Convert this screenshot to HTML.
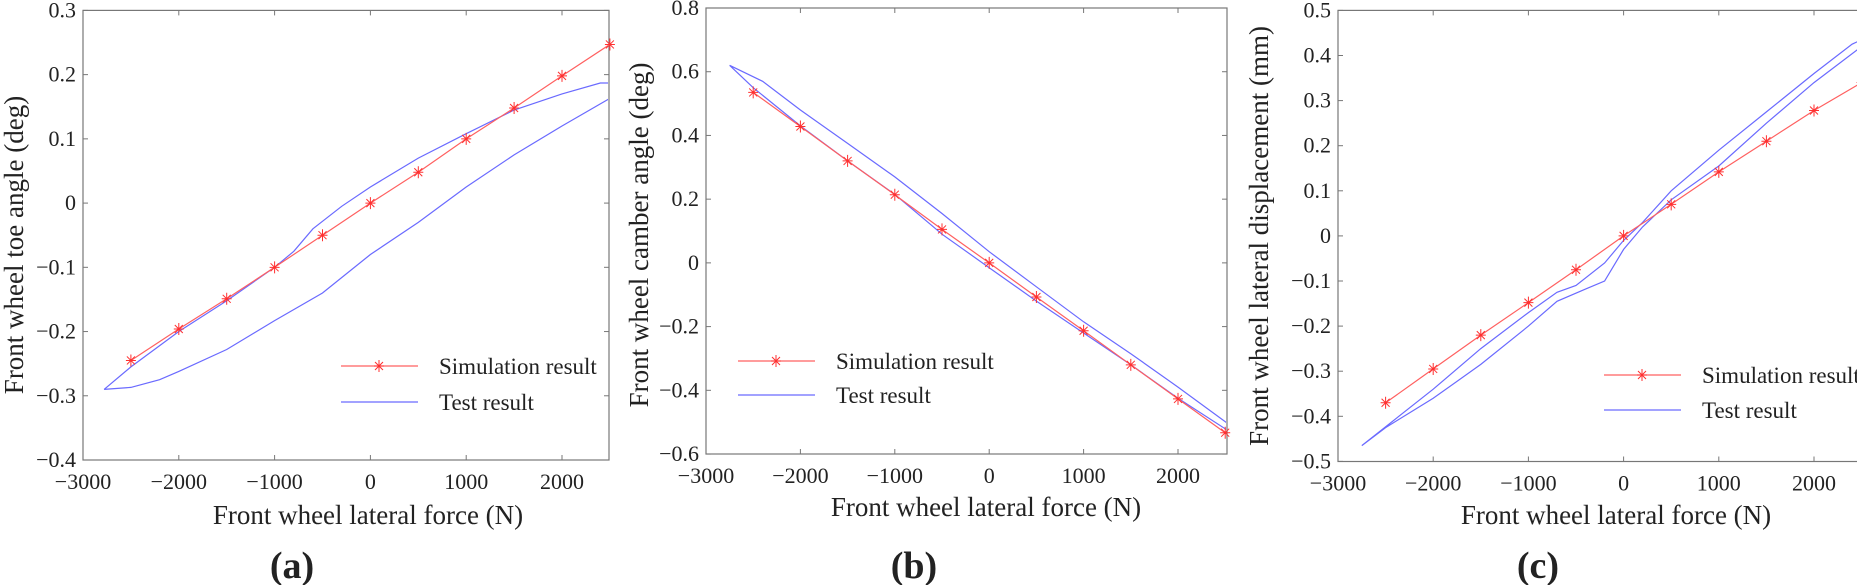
<!DOCTYPE html>
<html><head><meta charset="utf-8"><style>
html,body{margin:0;padding:0;background:#fff}
svg{display:block}
text{font-family:"Liberation Serif",serif;fill:#222}
</style></head><body>
<svg id="s" width="1857" height="585" xmlns="http://www.w3.org/2000/svg"></svg>
<script>
const S=document.getElementById('s');
let h='';let k=0;
function P(o){
 k++;
 const px=x=>o.L+(x+3000)*o.sx, py=y=>o.T+(o.ymax-y)*o.sy;
 const R=o.R,B=o.B;
 h+=`<clipPath id="c${k}"><rect x="${o.L}" y="${o.T}" width="${R-o.L-1}" height="${B-o.T}"/></clipPath>`;
 h+=`<rect x="${o.L}" y="${o.T}" width="${R-o.L}" height="${B-o.T}" fill="none" stroke="#777" stroke-width="1.2"/>`;
 for(let x=-3000;x<=2000;x+=1000){const X=px(x);
  h+=`<line x1="${X}" y1="${B}" x2="${X}" y2="${B-5}" stroke="#777"/><line x1="${X}" y1="${o.T}" x2="${X}" y2="${o.T+5}" stroke="#777"/>`;
  h+=`<text x="${X}" y="${B+29}" font-size="22" text-anchor="middle">${x<0?'\u2212'+(-x):x}</text>`;}
 for(let i=0;i<=o.n;i++){const y=+(o.ymin+i*o.dy).toFixed(2);const Y=py(y);
  h+=`<line x1="${o.L}" y1="${Y}" x2="${o.L+5}" y2="${Y}" stroke="#777"/><line x1="${R}" y1="${Y}" x2="${R-5}" y2="${Y}" stroke="#777"/>`;
  h+=`<text x="${o.L-7}" y="${Y+7}" font-size="22" text-anchor="end">${y<0?'\u2212'+(-y):y}</text>`;}
 const pts=a=>a.map(p=>px(p[0]).toFixed(1)+','+py(p[1]).toFixed(1)).join(' ');
 h+=`<g clip-path="url(#c${k})"><polyline points="${pts(o.test)}" fill="none" stroke="#6a6aff" stroke-width="1.2"/>`;
 const sim=o.sim.map((v,i)=>[-2500+500*i,v]);
 h+=`<polyline points="${pts(sim)}" fill="none" stroke="#ff6060" stroke-width="1.2"/></g>`;
 const star=(X,Y)=>`<path d="M${X-5} ${Y}H${X+5}M${X} ${Y-6}V${Y+6}M${X-4} ${Y-4}L${X+4} ${Y+4}M${X-4} ${Y+4}L${X+4} ${Y-4}" stroke="#ff3030" stroke-width="1"/>`;
 sim.forEach(p=>{const X=px(p[0]);if(X<=R+2)h+=star(X,py(p[1]));});
 const g=o.lg;
 h+=`<line x1="${g[0]}" y1="${g[1]}" x2="${g[0]+77}" y2="${g[1]}" stroke="#ff6060" stroke-width="1.2"/>`+star(g[0]+38,g[1]);
 h+=`<line x1="${g[0]}" y1="${g[3]}" x2="${g[0]+77}" y2="${g[3]}" stroke="#6a6aff" stroke-width="1.2"/>`;
 h+=`<text x="${g[2]}" y="${g[1]+8}" font-size="23">Simulation result</text><text x="${g[2]}" y="${g[3]+8}" font-size="23">Test result</text>`;
 h+=`<text x="${o.xl}" y="${o.xly}" font-size="27" text-anchor="middle">Front wheel lateral force (N)</text>`;
 h+=`<text transform="translate(${o.yx},${o.yy}) rotate(-90)" font-size="27" text-anchor="middle">${o.ylab}</text>`;
 h+=`<text x="${o.pl}" y="578" font-size="38" font-weight="bold" text-anchor="middle">(${o.lab})</text>`;
}
P({L:83,R:609,T:10.4,B:460,sx:0.0958,sy:642.3,ymax:0.3,ymin:-0.4,dy:0.1,n:7,
 sim:[-0.245,-0.196,-0.149,-0.1,-0.05,0,0.048,0.1,0.148,0.198,0.247],
 test:[[-2780,-0.29],[-2500,-0.255],[-2000,-0.2],[-1500,-0.152],[-1000,-0.1],[-800,-0.075],[-600,-0.04],[-300,-0.005],[0,0.025],[500,0.07],[1000,0.108],[1500,0.145],[2000,0.17],[2400,0.187],[2600,0.187],[2600,0.175],[2500,0.163],[2000,0.12],[1500,0.075],[1000,0.025],[500,-0.03],[0,-0.08],[-500,-0.14],[-1000,-0.183],[-1500,-0.228],[-2000,-0.262],[-2200,-0.275],[-2500,-0.287],[-2780,-0.29]],
 lg:[341,366,439,402],xl:368,xly:524,yx:23,yy:245,ylab:'Front wheel toe angle (deg)',pl:292,lab:'a'});
P({L:706,R:1227,T:8,B:454,sx:0.0944,sy:318.6,ymax:0.8,ymin:-0.6,dy:0.2,n:7,
 sim:[0.535,0.428,0.32,0.214,0.105,0,-0.107,-0.213,-0.32,-0.427,-0.533],
 test:[[-2750,0.62],[-2400,0.57],[-2000,0.48],[-1500,0.375],[-1000,0.27],[-500,0.155],[0,0.035],[500,-0.075],[1000,-0.185],[1500,-0.285],[2000,-0.39],[2600,-0.52],[2600,-0.54],[2000,-0.425],[1500,-0.32],[1000,-0.22],[500,-0.12],[0,-0.015],[-500,0.09],[-600,0.115],[-1000,0.215],[-1500,0.32],[-2000,0.43],[-2500,0.55],[-2750,0.62]],
 lg:[738,361,836,395],xl:986,xly:516,yx:648,yy:235,ylab:'Front wheel camber angle (deg)',pl:914,lab:'b'});
P({L:1338,R:1862,T:10.4,B:461.5,sx:0.0952,sy:451,ymax:0.5,ymin:-0.5,dy:0.1,n:10,
 sim:[-0.37,-0.295,-0.22,-0.148,-0.075,0,0.07,0.142,0.21,0.278,0.34],
 test:[[-2750,-0.465],[-2000,-0.34],[-1500,-0.25],[-1000,-0.17],[-700,-0.125],[-500,-0.11],[-200,-0.06],[0,-0.01],[200,0.03],[500,0.1],[1000,0.19],[1500,0.275],[2000,0.36],[2400,0.425],[2500,0.435],[2500,0.42],[2000,0.34],[1500,0.25],[1000,0.155],[500,0.08],[200,0.02],[0,-0.03],[-200,-0.1],[-400,-0.118],[-700,-0.145],[-1000,-0.2],[-1500,-0.285],[-2000,-0.36],[-2500,-0.425],[-2750,-0.465]],
 lg:[1604,375,1702,410],xl:1616,xly:524,yx:1268,yy:236,ylab:'Front wheel lateral displacement (mm)',pl:1538,lab:'c'});
S.innerHTML=h;
</script>
</body></html>
